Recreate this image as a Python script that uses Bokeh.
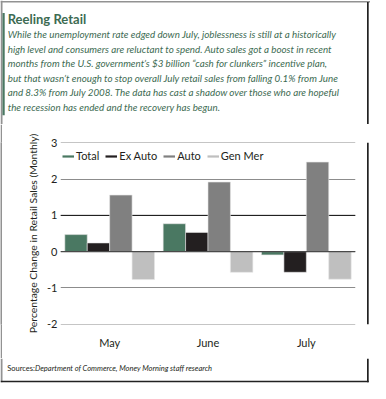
from bokeh.plotting import figure
from bokeh.layouts import column, row
from bokeh.models import (ColumnDataSource, FactorRange, Range1d, Legend,
                          LegendItem, Span, FixedTicker)
from bokeh.transform import dodge
from bokeh.core.properties import value
from bokeh.embed import file_html
from bokeh.resources import INLINE

# ---------------- data ----------------
months = ["May", "June", "July"]
total = [0.47, 0.77, -0.09]
ex_auto = [0.24, 0.53, -0.57]
auto = [1.56, 1.92, 2.47]
gen_mer = [-0.77, -0.57, -0.76]
series_names = ["Total", "Ex Auto", "Auto", "Gen Mer"]
series_keys = ["total", "ex_auto", "auto", "gen_mer"]
series_colors = ["#4a7862", "#231f20", "#808080", "#bfbfbf"]
y_ticks = [-2, -1, 0, 1, 2, 3]

title_text = "Reeling Retail"
body_lines = [
    "While the unemployment rate edged down July, joblessness is still at a historically",
    "high level and consumers are reluctant to spend. Auto sales got a boost in recent",
    "months from the U.S. government\u2019s $3 billion \u201ccash for clunkers\u201d incentive plan,",
    "but that wasn\u2019t enough to stop overall July retail sales from falling 0.1% from June",
    "and 8.3% from July 2008. The data has cast a shadow over those who are hopeful",
    "the recession has ended and the recovery has begun.",
]
y_label = "Percentage Change in Retail Sales (Monthly)"
source_head = "Sources:"
source_text = "Department of Commerce, Money Morning staff research"

# ---------------- layout constants ----------------
W = 370
TOP_H, CH_H, BOT_H = 124, 234, 25
LEFT_W, RIGHT_W = 2, 4
CH_W = W - LEFT_W - RIGHT_W
GREEN_TXT = "#3d6b52"
GREEN = "#4a7862"
FONT = "Lato"
GRAY_EDGE = "#929292"
DARK_EDGE = "#222222"


def blank(width, height):
    f = figure(width=width, height=height, output_backend="svg",
               toolbar_location=None, x_range=Range1d(0, width),
               y_range=Range1d(height, 0), min_border=0)
    f.min_border_left = f.min_border_right = 0
    f.min_border_top = f.min_border_bottom = 0
    f.axis.visible = False
    f.grid.grid_line_color = None
    f.outline_line_color = None
    f.background_fill_color = "white"
    f.border_fill_color = "white"
    return f


# ---------------- top text panel ----------------
top = blank(W, TOP_H)
top.quad(left=[0], right=[W], top=[0.5], bottom=[2.0], fill_color=GRAY_EDGE,
         line_color=None)
top.quad(left=[0], right=[2], top=[0], bottom=[TOP_H], fill_color=GRAY_EDGE,
         line_color=None)
top.quad(left=[366.5], right=[368.2], top=[1.5], bottom=[TOP_H],
         fill_color=DARK_EDGE, line_color=None)
top.quad(left=[2], right=[4.2], top=[12.5], bottom=[114.7], fill_color=GREEN,
         line_color=None)
top.text(x=[7.2], y=[18.4], text=[title_text], text_font=value(FONT),
         text_font_style="bold", text_font_size=value("13px"),
         text_color=GREEN_TXT, text_baseline="middle")
line_y = [33.0, 48.0, 62.7, 77.3, 91.9, 106.1]
top.text(x=[7.2] * len(body_lines), y=line_y, text=body_lines,
         text_font=value(FONT), text_font_style="italic",
         text_font_size=value("9.8px"), text_color=GREEN_TXT,
         text_baseline="middle")

# ---------------- chart ----------------
src = ColumnDataSource(dict(months=months, total=total, ex_auto=ex_auto,
                            auto=auto, gen_mer=gen_mer))
p = figure(x_range=FactorRange(*months), y_range=Range1d(-2.01, 3.01),
           width=CH_W, height=CH_H, output_backend="svg",
           toolbar_location=None, min_border_left=58, min_border_right=11,
           min_border_top=18, min_border_bottom=34)
p.outline_line_color = None
p.background_fill_color = "white"
p.border_fill_color = "white"

bw = 0.228
offsets = [-1.5 * bw, -0.5 * bw, 0.5 * bw, 1.5 * bw]
for key, col, off in zip(series_keys, series_colors, offsets):
    p.vbar(x=dodge("months", off, range=p.x_range), top=key, width=bw,
           source=src, fill_color=col, line_color="#e6e6e6", line_width=0.6)

p.xgrid.grid_line_color = None
p.ygrid.grid_line_color = "#8c8c8c"
p.ygrid.grid_line_width = 1
p.yaxis.ticker = FixedTicker(ticks=y_ticks)
p.yaxis.major_label_overrides = {t: str(t) for t in y_ticks}
p.add_layout(Span(location=1, dimension="width", line_color="#111111",
                  line_width=1, level="underlay"))
p.add_layout(Span(location=0, dimension="width", line_color="#4a4a4a",
                  line_width=1.3))

for ax in (p.xaxis[0], p.yaxis[0]):
    ax.axis_line_color = None
    ax.major_tick_line_color = None
    ax.minor_tick_line_color = None
    ax.major_tick_out = 0
    ax.major_tick_in = 0
    ax.major_label_text_font = FONT
    ax.major_label_text_color = "#231f20"
    ax.major_label_text_font_size = "11px"
p.yaxis.major_label_standoff = 3
p.yaxis.axis_label = y_label
p.yaxis.axis_label_text_font = FONT
p.yaxis.axis_label_text_font_style = "normal"
p.yaxis.axis_label_text_font_size = "10.4px"
p.yaxis.axis_label_text_color = "#231f20"
p.yaxis.axis_label_standoff = 5
p.xaxis.major_label_standoff = 11

items = []
for name, col in zip(series_names, series_colors):
    r = p.line(x=[months[0]], y=[float("nan")], line_color=col, line_width=2.2)
    items.append(LegendItem(label=name, renderers=[r]))
leg = Legend(items=items, orientation="horizontal", location=(2, 182 - 20),
             padding=0, margin=0, spacing=6, glyph_width=12, glyph_height=12,
             label_height=12, label_standoff=2, border_line_alpha=0,
             background_fill_alpha=0, label_text_font=FONT,
             label_text_font_size="11px", label_text_color="#231f20")
p.add_layout(leg)

left_strip = blank(LEFT_W, CH_H)
left_strip.background_fill_color = GRAY_EDGE
left_strip.border_fill_color = GRAY_EDGE
right_strip = blank(RIGHT_W, CH_H)
right_strip.quad(left=[0.5], right=[2.2], top=[0], bottom=[CH_H],
                 fill_color=DARK_EDGE, line_color=None)

# ---------------- bottom panel ----------------
bot = blank(W, BOT_H)
bot.quad(left=[0], right=[2], top=[0], bottom=[23.8], fill_color=GRAY_EDGE,
         line_color=None)
bot.quad(left=[366.5], right=[368.2], top=[0], bottom=[23.8],
         fill_color=DARK_EDGE, line_color=None)
bot.quad(left=[0], right=[368.2], top=[22.3], bottom=[23.8],
         fill_color=DARK_EDGE, line_color=None)
bot.text(x=[6.7], y=[9.6], text=[source_head], text_font=value(FONT),
         text_font_size=value("7.5px"), text_color="#231f20",
         text_baseline="middle")
bot.text(x=[34.5], y=[9.6], text=[source_text], text_font=value(FONT),
         text_font_style="italic", text_font_size=value("7.5px"),
         text_color="#231f20", text_baseline="middle")

layout = column(top, row(left_strip, p, right_strip), bot)

open("out.html", "w").write(file_html(layout, INLINE))
